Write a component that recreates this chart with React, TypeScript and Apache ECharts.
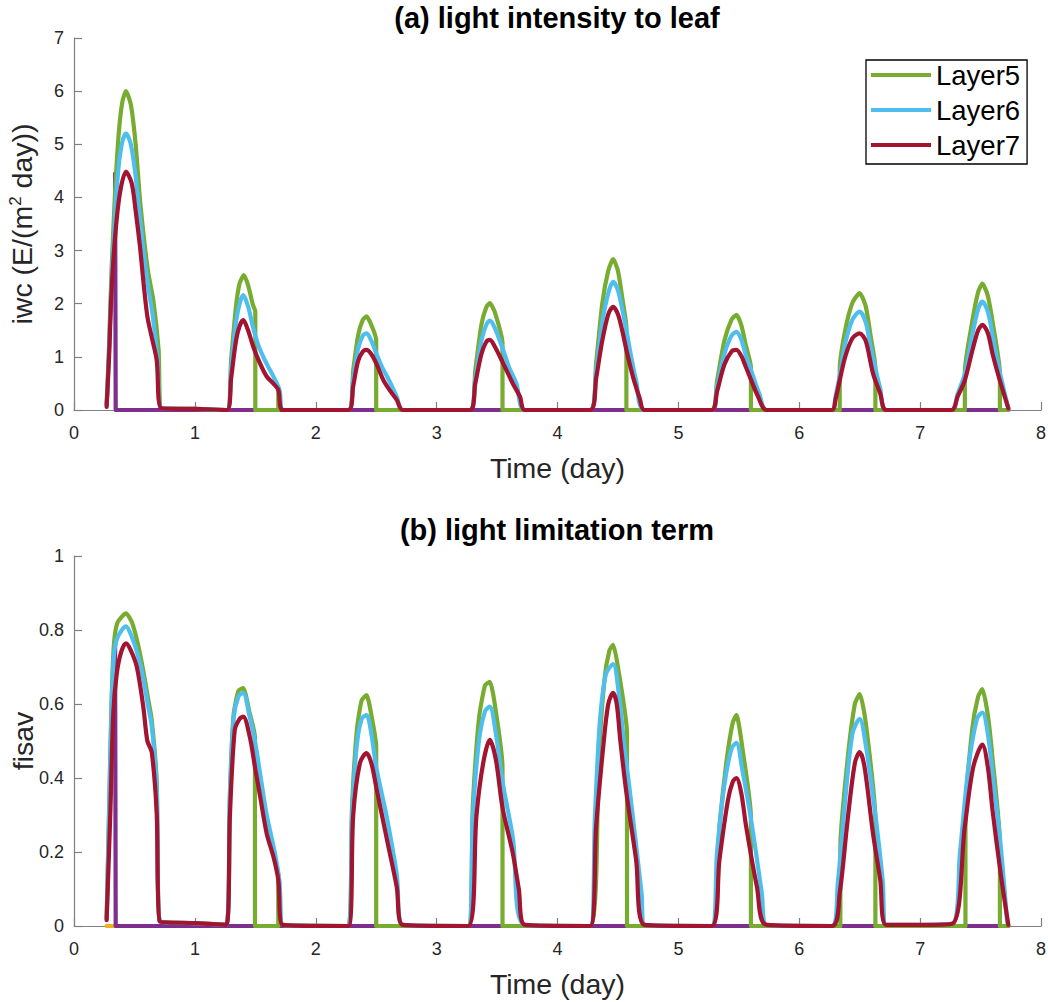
import React, { useEffect, useRef } from "react";
import * as echarts from "echarts";

// ---------- data: [time (day), value] ----------
const xTicks = [0, 1, 2, 3, 4, 5, 6, 7, 8];
const legendNames = ["Layer5", "Layer6", "Layer7"];

// (a) iwc
const topLayer5 = [
  [0.27, 0.1], [0.29, 1.2], [0.31, 2.6], [0.34, 4.1], [0.37, 5.2], [0.4, 5.8], [0.43, 6.0], [0.47, 5.75], [0.51, 5.0], [0.546, 3.95], [0.58, 3.2], [0.615, 2.57], [0.656, 2.07], [0.7, 1.13], [0.725, 0.03],
  [1.0, 0.02], [1.265, 0],
  [1.3, 0.95], [1.34, 1.95], [1.37, 2.38], [1.405, 2.54], [1.44, 2.35], [1.48, 1.98], [1.5, 1.85], [1.5, 0], [1.69, 0], [1.69, 0.41], [1.73, 0],
  [2.27, 0],
  [2.31, 0.75], [2.35, 1.4], [2.39, 1.7], [2.42, 1.76], [2.46, 1.6], [2.5, 1.32], [2.5, 0],
  [3.275, 0],
  [3.32, 0.75], [3.37, 1.6], [3.41, 1.93], [3.44, 2.01], [3.48, 1.85], [3.545, 1.25], [3.545, 0],
  [4.27, 0],
  [4.32, 0.9], [4.37, 2.0], [4.42, 2.62], [4.46, 2.84], [4.5, 2.62], [4.54, 2.05], [4.57, 1.55], [4.57, 0],
  [5.275, 0],
  [5.32, 0.55], [5.38, 1.3], [5.44, 1.7], [5.48, 1.79], [5.52, 1.6], [5.56, 1.2], [5.6, 0.81], [5.6, 0],
  [6.335, 0], [6.335, 0.78],
  [6.38, 1.5], [6.44, 2.02], [6.5, 2.2], [6.55, 1.95], [6.59, 1.4], [6.63, 0.78], [6.63, 0],
  [7.37, 0], [7.37, 0.72],
  [7.43, 1.65], [7.48, 2.22], [7.515, 2.38], [7.56, 2.15], [7.6, 1.65], [7.66, 0.69], [7.66, 0], [7.73, 0],
];
const topLayer6 = [
  [0.27, 0.1], [0.29, 1.1], [0.31, 2.4], [0.34, 3.7], [0.37, 4.6], [0.4, 5.05], [0.43, 5.2], [0.47, 5.0], [0.51, 4.4], [0.546, 3.6], [0.58, 2.9], [0.615, 2.3], [0.65, 1.8], [0.69, 1.0], [0.725, 0.03],
  [1.0, 0.02], [1.265, 0],
  [1.3, 0.8], [1.34, 1.65], [1.37, 2.0], [1.4, 2.16], [1.44, 1.95], [1.48, 1.57], [1.52, 1.25], [1.566, 1.0], [1.61, 0.8], [1.65, 0.63], [1.7, 0.38], [1.73, 0],
  [2.27, 0],
  [2.31, 0.6], [2.35, 1.15], [2.39, 1.4], [2.42, 1.44], [2.46, 1.3], [2.5, 1.07], [2.55, 0.8], [2.59, 0.63], [2.63, 0.45], [2.67, 0.25], [2.72, 0],
  [3.275, 0],
  [3.32, 0.6], [3.37, 1.3], [3.41, 1.6], [3.44, 1.68], [3.48, 1.55], [3.55, 1.13], [3.6, 0.8], [3.66, 0.5], [3.73, 0],
  [4.27, 0],
  [4.32, 0.75], [4.37, 1.65], [4.42, 2.2], [4.46, 2.41], [4.5, 2.25], [4.54, 1.85], [4.57, 1.5], [4.61, 1.0], [4.65, 0.56], [4.72, 0],
  [5.275, 0],
  [5.32, 0.45], [5.38, 1.05], [5.44, 1.4], [5.48, 1.47], [5.52, 1.33], [5.56, 1.02], [5.61, 0.69], [5.67, 0.3], [5.73, 0],
  [6.27, 0],
  [6.3, 0.25], [6.335, 0.65], [6.38, 1.25], [6.44, 1.7], [6.5, 1.85], [6.55, 1.65], [6.59, 1.2], [6.63, 0.78], [6.67, 0.4], [6.72, 0],
  [7.26, 0],
  [7.31, 0.3], [7.37, 0.68], [7.43, 1.4], [7.48, 1.9], [7.515, 2.04], [7.56, 1.85], [7.6, 1.4], [7.66, 0.7], [7.73, 0.03],
];
const topLayer7 = [
  [0.27, 0.06], [0.29, 1.0], [0.31, 2.2], [0.34, 3.26], [0.38, 4.08], [0.43, 4.48], [0.477, 4.27], [0.51, 3.75], [0.546, 3.07], [0.575, 2.4], [0.607, 1.76], [0.642, 1.38], [0.684, 0.94], [0.725, 0.03],
  [1.0, 0.02], [1.265, 0],
  [1.3, 0.6], [1.34, 1.3], [1.37, 1.58], [1.4, 1.69], [1.44, 1.5], [1.483, 1.19], [1.538, 0.88], [1.594, 0.63], [1.648, 0.5], [1.69, 0.38], [1.73, 0],
  [2.27, 0],
  [2.31, 0.45], [2.35, 0.92], [2.39, 1.1], [2.42, 1.13], [2.46, 1.05], [2.5, 0.88], [2.56, 0.56], [2.61, 0.38], [2.67, 0.19], [2.72, 0],
  [3.275, 0],
  [3.32, 0.5], [3.37, 1.05], [3.41, 1.28], [3.44, 1.32], [3.48, 1.2], [3.55, 0.88], [3.63, 0.5], [3.69, 0.25], [3.73, 0],
  [4.27, 0],
  [4.32, 0.6], [4.37, 1.3], [4.42, 1.8], [4.46, 1.94], [4.5, 1.8], [4.54, 1.45], [4.57, 1.13], [4.61, 0.75], [4.64, 0.5], [4.68, 0.22], [4.72, 0],
  [5.275, 0],
  [5.32, 0.35], [5.38, 0.85], [5.44, 1.1], [5.48, 1.13], [5.52, 1.02], [5.56, 0.8], [5.59, 0.63], [5.66, 0.25], [5.73, 0],
  [6.27, 0],
  [6.3, 0.2], [6.335, 0.56], [6.38, 1.0], [6.44, 1.35], [6.5, 1.44], [6.55, 1.3], [6.61, 0.69], [6.67, 0.31], [6.72, 0],
  [7.26, 0],
  [7.31, 0.25], [7.37, 0.56], [7.43, 1.1], [7.48, 1.5], [7.515, 1.6], [7.56, 1.45], [7.6, 1.05], [7.66, 0.55], [7.73, 0.03],
];
const topLayer4 = [[0.34, 4.45], [0.345, 0], [7.73, 0]];

// (b) fisav
const botLayer5 = [
  [0.27, 0.02], [0.29, 0.31], [0.31, 0.6], [0.33, 0.76], [0.36, 0.82], [0.43, 0.845], [0.48, 0.82], [0.53, 0.76], [0.573, 0.69], [0.61, 0.62], [0.643, 0.557], [0.684, 0.39], [0.71, 0.012],
  [1.0, 0.008], [1.26, 0.003],
  [1.29, 0.36], [1.32, 0.57], [1.36, 0.635], [1.4, 0.643], [1.45, 0.58], [1.497, 0.51], [1.497, 0], [1.69, 0], [1.69, 0.14], [1.72, 0.003],
  [2.27, 0],
  [2.3, 0.32], [2.34, 0.53], [2.38, 0.61], [2.42, 0.624], [2.46, 0.57], [2.5, 0.485], [2.5, 0],
  [3.26, 0],
  [3.3, 0.33], [3.35, 0.56], [3.4, 0.65], [3.44, 0.66], [3.49, 0.58], [3.545, 0.43], [3.545, 0],
  [4.27, 0],
  [4.34, 0.45], [4.39, 0.67], [4.43, 0.745], [4.46, 0.76], [4.5, 0.7], [4.575, 0.52], [4.575, 0],
  [5.275, 0],
  [5.34, 0.27], [5.4, 0.45], [5.45, 0.55], [5.48, 0.57], [5.53, 0.48], [5.6, 0.295], [5.6, 0],
  [6.34, 0], [6.34, 0.214],
  [6.4, 0.45], [6.46, 0.6], [6.5, 0.627], [6.55, 0.55], [6.63, 0.286], [6.63, 0],
  [7.375, 0], [7.375, 0.295],
  [7.43, 0.53], [7.48, 0.62], [7.515, 0.64], [7.56, 0.57], [7.6, 0.45], [7.66, 0.223], [7.66, 0], [7.73, 0],
];
const botLayer6 = [
  [0.27, 0.02], [0.29, 0.3], [0.31, 0.58], [0.33, 0.73], [0.36, 0.78], [0.43, 0.81], [0.48, 0.78], [0.53, 0.73], [0.573, 0.67], [0.61, 0.6], [0.643, 0.54], [0.684, 0.38], [0.71, 0.012],
  [1.0, 0.008], [1.26, 0.003],
  [1.29, 0.35], [1.32, 0.56], [1.36, 0.62], [1.4, 0.63], [1.45, 0.57], [1.497, 0.5], [1.55, 0.39], [1.594, 0.3], [1.66, 0.2], [1.7, 0.12], [1.73, 0.003],
  [2.27, 0],
  [2.3, 0.3], [2.34, 0.49], [2.38, 0.56], [2.42, 0.57], [2.46, 0.52], [2.5, 0.43], [2.59, 0.29], [2.67, 0.14], [2.72, 0.003],
  [3.26, 0],
  [3.3, 0.3], [3.35, 0.5], [3.4, 0.58], [3.44, 0.593], [3.49, 0.52], [3.545, 0.39], [3.63, 0.24], [3.73, 0.003],
  [4.27, 0],
  [4.31, 0.3], [4.35, 0.55], [4.4, 0.68], [4.46, 0.708], [4.51, 0.62], [4.555, 0.48], [4.6, 0.36], [4.695, 0.09], [4.72, 0.003],
  [5.275, 0],
  [5.32, 0.2], [5.38, 0.38], [5.44, 0.48], [5.48, 0.495], [5.53, 0.42], [5.6, 0.29], [5.69, 0.09], [5.73, 0.003],
  [6.27, 0],
  [6.32, 0.12], [6.38, 0.34], [6.44, 0.52], [6.5, 0.56], [6.55, 0.49], [6.63, 0.3], [6.69, 0.125], [6.72, 0.003],
  [7.265, 0.006],
  [7.33, 0.2], [7.4, 0.43], [7.47, 0.56], [7.515, 0.577], [7.56, 0.52], [7.61, 0.38], [7.66, 0.24], [7.72, 0.01],
];
const botLayer7 = [
  [0.27, 0.016], [0.3, 0.3], [0.325, 0.575], [0.353, 0.68], [0.39, 0.74], [0.43, 0.764], [0.47, 0.745], [0.52, 0.7], [0.573, 0.593], [0.607, 0.5], [0.643, 0.47], [0.684, 0.305], [0.71, 0.012],
  [1.0, 0.008], [1.26, 0.003],
  [1.29, 0.3], [1.33, 0.53], [1.37, 0.56], [1.4, 0.566], [1.455, 0.51], [1.497, 0.43], [1.54, 0.35], [1.594, 0.25], [1.65, 0.187], [1.69, 0.125], [1.726, 0.003],
  [2.27, 0],
  [2.31, 0.3], [2.365, 0.44], [2.42, 0.467], [2.46, 0.44], [2.5, 0.376], [2.59, 0.232], [2.67, 0.106], [2.72, 0.003],
  [3.26, 0],
  [3.33, 0.3], [3.385, 0.44], [3.44, 0.503], [3.49, 0.45], [3.545, 0.32], [3.63, 0.197], [3.68, 0.1], [3.73, 0.003],
  [4.27, 0],
  [4.32, 0.27], [4.38, 0.49], [4.42, 0.6], [4.46, 0.63], [4.49, 0.6], [4.52, 0.5], [4.57, 0.36], [4.65, 0.18], [4.72, 0.003],
  [5.275, 0],
  [5.34, 0.18], [5.41, 0.34], [5.45, 0.39], [5.48, 0.4], [5.52, 0.36], [5.56, 0.27], [5.65, 0.106], [5.73, 0.003],
  [6.27, 0],
  [6.335, 0.09], [6.4, 0.286], [6.46, 0.44], [6.5, 0.47], [6.54, 0.43], [6.61, 0.25], [6.67, 0.125], [6.72, 0.003],
  [7.0, 0.003], [7.265, 0.006],
  [7.37, 0.27], [7.44, 0.43], [7.515, 0.49], [7.56, 0.43], [7.6, 0.31], [7.67, 0.133], [7.73, 0.003],
];
const botLayer4 = [[0.34, 0.77], [0.345, 0], [7.73, 0]];
const botLayer3 = [[0.27, 0], [0.33, 0]];

// ---------- styling ----------
const FONT = "Liberation Sans, Arial, Helvetica, sans-serif";
const C5 = "#77AC30";
const C6 = "#4DBEEE";
const C7 = "#A2142F";
const C4 = "#7E2F8E";
const C3 = "#EDB120";
const AXIS_GRAY = "#808080";
const LW = 4.2;

function xAxisCfg(gridIndex: number) {
  return {
    type: "value",
    gridIndex,
    min: xTicks[0],
    max: xTicks[xTicks.length - 1],
    interval: 1,
    name: "Time (day)",
    nameLocation: "middle",
    nameGap: 43,
    nameMoveOverlap: false,
    nameTextStyle: { fontFamily: FONT, fontSize: 28.5, color: "#262626" },
    axisLine: { show: true, lineStyle: { color: AXIS_GRAY, width: 1.2 } },
    axisTick: { show: true, inside: true, length: 8, lineStyle: { color: AXIS_GRAY, width: 1.2 } },
    axisLabel: { fontFamily: FONT, fontSize: 18, color: "#262626", margin: 14 },
    splitLine: { show: false },
  };
}

function yAxisCfg(gridIndex: number, name: string, max: number, interval: number) {
  return {
    type: "value",
    gridIndex,
    min: 0,
    max,
    interval,
    name,
    nameLocation: "middle",
    nameGap: 37,
    nameMoveOverlap: false,
    nameTextStyle: {
      fontFamily: FONT,
      fontSize: 28.5,
      color: "#262626",
      rich: {
        sup: { fontFamily: FONT, fontSize: 17, color: "#262626", verticalAlign: "top", lineHeight: 30 },
      },
    },
    axisLine: { show: true, lineStyle: { color: AXIS_GRAY, width: 1.2 } },
    axisTick: { show: true, inside: true, length: 8, lineStyle: { color: AXIS_GRAY, width: 1.2 } },
    axisLabel: { fontFamily: FONT, fontSize: 18, color: "#262626", margin: 10 },
    splitLine: { show: false },
  };
}

function lineSeries(name: string, data: number[][], color: string, idx: number, z: number, smooth: number) {
  return {
    type: "line",
    name,
    data,
    xAxisIndex: idx,
    yAxisIndex: idx,
    showSymbol: false,
    symbol: "none",
    smooth,
    z,
    lineStyle: { color, width: LW, join: "round", cap: "round" },
    itemStyle: { color },
    emphasis: { disabled: true },
  };
}

export default function App() {
  const ref = useRef<HTMLDivElement>(null);
  useEffect(() => {
    if (!ref.current) return;
    const chart = echarts.init(ref.current, null, { renderer: "svg" });
    const titleStyle = { fontFamily: FONT, fontSize: 29, fontWeight: "bold", color: "#000" };
    const option = {
      animation: false,
      backgroundColor: "#ffffff",
      title: [
        { text: "(a) light intensity to leaf", left: 557, top: 3, textAlign: "center", padding: 0, textStyle: titleStyle },
        { text: "(b) light limitation term", left: 557, top: 515, textAlign: "center", padding: 0, textStyle: titleStyle },
      ],
      legend: {
        data: legendNames.map((n) => ({ name: n, icon: "rect" })),
        orient: "vertical",
        left: 866,
        top: 60,
        itemWidth: 60,
        itemHeight: 4,
        itemGap: 7,
        padding: [1, 7, 5, 5],
        borderColor: "#000",
        borderWidth: 1.3,
        backgroundColor: "#fff",
        textStyle: { fontFamily: FONT, fontSize: 27.5, color: "#000", lineHeight: 28 },
        selectedMode: false,
      },
      grid: [
        { left: 74, top: 38, width: 967, height: 372, containLabel: false, outerBoundsMode: "none" },
        { left: 74, top: 556, width: 967, height: 370, containLabel: false, outerBoundsMode: "none" },
      ],
      xAxis: [xAxisCfg(0), xAxisCfg(1)],
      yAxis: [
        yAxisCfg(0, "iwc (E/(m{sup|2} day))", 7, 1),
        yAxisCfg(1, "fisav", 1, 0.2),
      ],
      series: [
        lineSeries("Layer4a", topLayer4, C4, 0, 1, 0),
        lineSeries("Layer5", topLayer5, C5, 0, 2, 0.2),
        lineSeries("Layer6", topLayer6, C6, 0, 3, 0.3),
        lineSeries("Layer7", topLayer7, C7, 0, 4, 0.3),
        lineSeries("Layer3b", botLayer3, C3, 1, 1, 0),
        lineSeries("Layer4b", botLayer4, C4, 1, 1, 0),
        lineSeries("Layer5", botLayer5, C5, 1, 2, 0.2),
        lineSeries("Layer6", botLayer6, C6, 1, 3, 0.3),
        lineSeries("Layer7", botLayer7, C7, 1, 4, 0.3),
      ],
    };
    chart.setOption(option as any);
    return () => chart.dispose();
  }, []);
  return (
    <div
      ref={ref}
      style={{ position: "fixed", left: 0, top: 0, width: 1048, height: 1002, background: "#fff" }}
    />
  );
}
